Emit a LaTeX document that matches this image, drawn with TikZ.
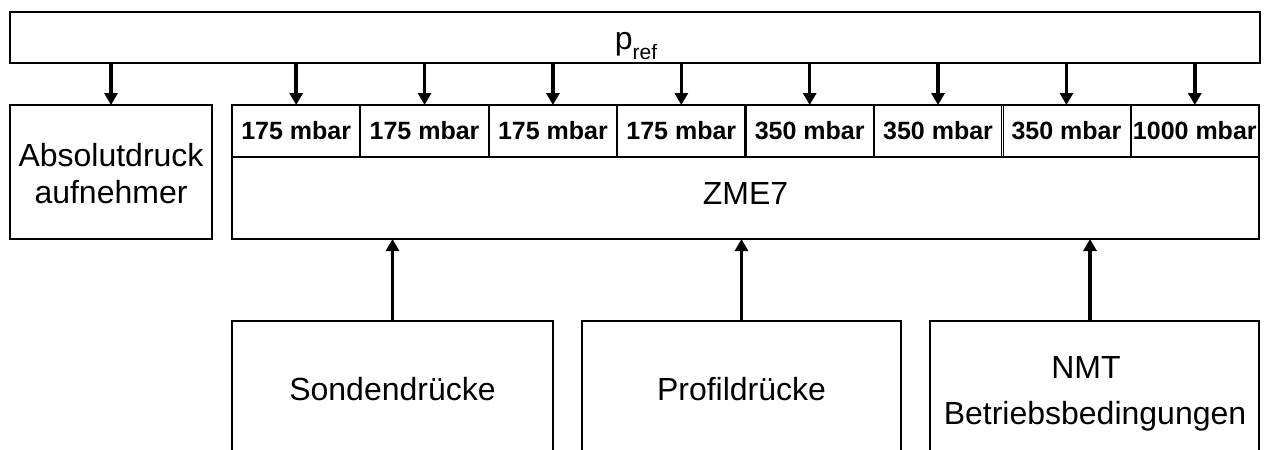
\documentclass[tikz,border=0pt]{standalone}
\usepackage{fontspec}
\setmainfont{Liberation Sans}
\usetikzlibrary{arrows.meta}

\begin{document}
\begin{tikzpicture}[x=1pt,y=-1pt,
  box/.style={draw,line width=2.1pt,inner sep=0pt,outer sep=0pt},
  lowbox/.style={draw,line width=1.5pt,inner sep=0pt,outer sep=0pt,anchor=north west},
  cell/.style={draw,line width=2.1pt,inner sep=0pt,outer sep=0pt,
    minimum width=128.375pt,minimum height=52pt,anchor=north west,
    font=\fontsize{25}{30}\selectfont\bfseries},
  big/.style={font=\fontsize{32}{37}\selectfont,inner sep=0pt,anchor=base},
  flow/.style={line width=3.4pt,-{Triangle[width=13pt,length=12pt]}},
]
\useasboundingbox (0,0) rectangle (1270,450);
\clip (0,0) rectangle (1270,450);

% reference pressure bar
\node[box,minimum width=1250pt,minimum height=51pt] (pref) at (635,37.5) {};
\node[big] (preftext) at (636,49.5)
  {p\raisebox{-10pt}{\fontsize{21}{21}\selectfont ref}};

% absolute pressure transducer
\node[box,minimum width=202pt,minimum height=134pt] (abs) at (111,172) {};
\node[big] (abs1) at (111,166) {Absolutdruck};
\node[big] (abs2) at (111,203) {aufnehmer};

% scanner module with its pressure ranges
\node[box,minimum width=1027pt,minimum height=82pt,anchor=north west] (zme) at (232,157) {};
\node[big] (zmetext) at (745.5,204) {ZME7};
\foreach \i/\r in {1/175,2/175,3/175,4/175,5/350,6/350,7/350,8/1000}
  \node[cell] (c\i) at ({232+(\i-1)*128.375},105) {\r{} mbar};
\draw[line width=0.9pt,double,double distance=1.3pt,shorten <=1pt,shorten >=1pt]
  (c6.north east) -- (c6.south east);

% input sources
\node[lowbox,minimum width=321pt,minimum height=200pt] (sonden) at (232,321) {};
\node[big] (sondentext) at (392.5,400) {Sondendrücke};
\node[lowbox,minimum width=319pt,minimum height=200pt] (profil) at (582,321) {};
\node[big] (profiltext) at (741.5,400) {Profildrücke};
\node[lowbox,minimum width=329pt,minimum height=200pt] (nmt) at (930,321) {};
\node[big] (nmt1) at (1086,378) {NMT};
\node[big] (nmt2) at (1095,424) {Betriebsbedingungen};

% reference pressure feeds
\draw[flow] (pref.south -| abs.north) -- (abs.north);
\foreach \i in {1,...,8}
  \draw[flow] (pref.south -| c\i.north) -- (c\i.north);

% measured pressures into the scanner
\draw[flow] (sonden.north) -- (sonden.north |- zme.south);
\draw[flow] (profil.north) -- (profil.north |- zme.south);
\draw[flow] ([xshift=-4.5pt]nmt.north) -- ([xshift=-4.5pt]nmt.north |- zme.south);
\end{tikzpicture}
\end{document}
